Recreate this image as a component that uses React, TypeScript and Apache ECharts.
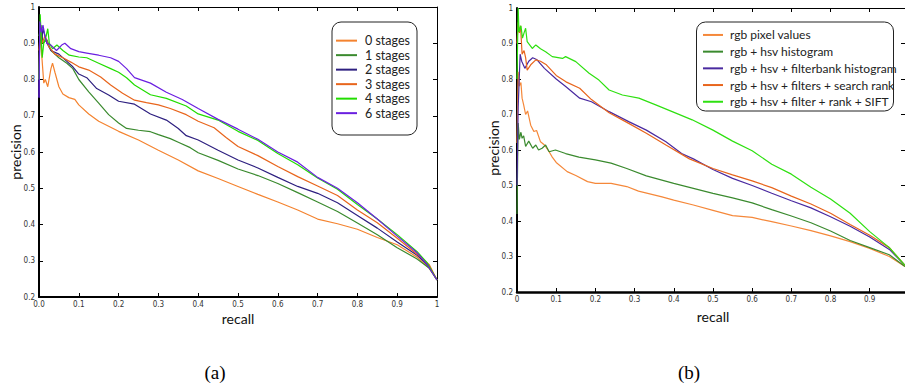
import React, { useEffect, useRef } from "react";
import * as echarts from "echarts";

// ---------- Data: (recall, precision) pairs ----------
// Panel (a)
const stages0 = [[0,0.8],[0.002,0.93],[0.006,0.88],[0.012,0.79],[0.016,0.8],[0.022,0.78],[0.03,0.83],[0.034,0.845],[0.04,0.82],[0.05,0.78],[0.06,0.76],[0.075,0.75],[0.09,0.745],[0.1,0.73],[0.125,0.705],[0.15,0.685],[0.2,0.657],[0.25,0.633],[0.3,0.605],[0.35,0.578],[0.4,0.548],[0.45,0.527],[0.5,0.505],[0.55,0.483],[0.6,0.462],[0.65,0.44],[0.7,0.415],[0.75,0.402],[0.8,0.387],[0.85,0.364],[0.9,0.344],[0.95,0.31],[0.98,0.28],[1.0,0.247]];
const stages1 = [[0,0.92],[0.005,0.95],[0.01,0.9],[0.02,0.91],[0.03,0.88],[0.05,0.86],[0.07,0.845],[0.085,0.83],[0.1,0.8],[0.125,0.766],[0.15,0.735],[0.175,0.703],[0.2,0.68],[0.22,0.665],[0.25,0.66],[0.28,0.656],[0.3,0.648],[0.33,0.637],[0.35,0.627],[0.38,0.612],[0.4,0.598],[0.45,0.577],[0.5,0.553],[0.55,0.535],[0.6,0.513],[0.65,0.488],[0.7,0.462],[0.75,0.436],[0.8,0.404],[0.85,0.372],[0.9,0.336],[0.95,0.305],[0.98,0.28],[1.0,0.247]];
const stages2 = [[0,0.75],[0.002,0.96],[0.006,0.9],[0.01,0.94],[0.02,0.9],[0.03,0.88],[0.05,0.87],[0.07,0.85],[0.085,0.835],[0.1,0.815],[0.12,0.805],[0.145,0.775],[0.175,0.757],[0.2,0.74],[0.24,0.732],[0.28,0.705],[0.32,0.688],[0.35,0.665],[0.37,0.645],[0.4,0.633],[0.45,0.605],[0.5,0.578],[0.55,0.556],[0.6,0.53],[0.65,0.505],[0.7,0.486],[0.75,0.46],[0.8,0.425],[0.85,0.39],[0.9,0.352],[0.95,0.315],[0.98,0.285],[1.0,0.247]];
const stages3 = [[0,0.88],[0.003,0.93],[0.008,0.9],[0.015,0.92],[0.025,0.89],[0.04,0.87],[0.06,0.86],[0.08,0.848],[0.1,0.835],[0.125,0.826],[0.155,0.807],[0.18,0.785],[0.21,0.762],[0.24,0.743],[0.27,0.736],[0.3,0.73],[0.33,0.72],[0.37,0.703],[0.4,0.685],[0.44,0.667],[0.47,0.64],[0.5,0.615],[0.55,0.59],[0.6,0.56],[0.65,0.532],[0.7,0.506],[0.75,0.48],[0.8,0.44],[0.85,0.405],[0.9,0.362],[0.95,0.318],[0.98,0.29],[1.0,0.247]];
const stages4 = [[0,0.8],[0.003,0.98],[0.008,0.86],[0.012,0.9],[0.018,0.92],[0.022,0.94],[0.026,0.9],[0.034,0.885],[0.045,0.895],[0.06,0.88],[0.076,0.867],[0.1,0.862],[0.12,0.86],[0.15,0.845],[0.18,0.83],[0.2,0.82],[0.22,0.805],[0.24,0.785],[0.28,0.758],[0.32,0.748],[0.37,0.727],[0.4,0.705],[0.45,0.688],[0.5,0.657],[0.55,0.632],[0.6,0.596],[0.65,0.565],[0.7,0.528],[0.75,0.497],[0.8,0.455],[0.85,0.415],[0.9,0.372],[0.95,0.325],[0.975,0.295],[1.0,0.247]];
const stages6 = [[0,0.75],[0.002,0.96],[0.006,0.93],[0.01,0.95],[0.015,0.92],[0.02,0.9],[0.03,0.895],[0.044,0.88],[0.057,0.895],[0.065,0.9],[0.08,0.885],[0.1,0.877],[0.12,0.873],[0.15,0.867],[0.18,0.86],[0.2,0.85],[0.22,0.83],[0.24,0.805],[0.28,0.79],[0.32,0.765],[0.36,0.745],[0.4,0.72],[0.45,0.69],[0.5,0.663],[0.55,0.635],[0.6,0.6],[0.65,0.572],[0.7,0.53],[0.75,0.5],[0.8,0.46],[0.85,0.415],[0.9,0.368],[0.95,0.322],[0.975,0.29],[1.0,0.247]];

// Panel (b)
const rgbPixel = [[0,0.62],[0.003,0.82],[0.006,0.78],[0.01,0.79],[0.013,0.746],[0.017,0.727],[0.022,0.7],[0.027,0.71],[0.035,0.67],[0.043,0.652],[0.05,0.655],[0.06,0.623],[0.07,0.614],[0.082,0.595],[0.09,0.58],[0.1,0.565],[0.128,0.539],[0.15,0.528],[0.18,0.511],[0.2,0.506],[0.24,0.506],[0.28,0.497],[0.31,0.484],[0.37,0.468],[0.4,0.459],[0.45,0.445],[0.5,0.43],[0.55,0.415],[0.6,0.41],[0.65,0.398],[0.7,0.386],[0.75,0.373],[0.8,0.358],[0.85,0.342],[0.9,0.323],[0.95,0.3],[0.99,0.272]];
const hsvHist = [[0,0.42],[0.002,0.6],[0.003,0.676],[0.006,0.63],[0.01,0.65],[0.013,0.633],[0.017,0.64],[0.022,0.61],[0.03,0.625],[0.04,0.605],[0.048,0.614],[0.055,0.6],[0.064,0.605],[0.073,0.614],[0.082,0.595],[0.098,0.6],[0.124,0.59],[0.158,0.58],[0.2,0.572],[0.24,0.563],[0.28,0.548],[0.33,0.527],[0.4,0.506],[0.45,0.492],[0.5,0.478],[0.55,0.465],[0.6,0.451],[0.65,0.432],[0.7,0.414],[0.75,0.395],[0.8,0.372],[0.85,0.345],[0.9,0.325],[0.95,0.305],[0.99,0.272]];
const filterbank = [[0,0.5],[0.003,0.72],[0.005,0.78],[0.008,0.87],[0.012,0.85],[0.02,0.83],[0.03,0.85],[0.04,0.86],[0.05,0.855],[0.07,0.83],[0.1,0.8],[0.125,0.778],[0.16,0.746],[0.19,0.736],[0.235,0.708],[0.285,0.68],[0.33,0.656],[0.38,0.623],[0.42,0.59],[0.45,0.575],[0.5,0.545],[0.55,0.52],[0.6,0.5],[0.65,0.478],[0.7,0.457],[0.75,0.437],[0.8,0.412],[0.85,0.385],[0.9,0.355],[0.95,0.32],[0.99,0.275]];
const searchRank = [[0,0.9],[0.003,0.96],[0.006,0.93],[0.009,0.95],[0.013,0.87],[0.018,0.88],[0.022,0.86],[0.026,0.825],[0.035,0.84],[0.048,0.854],[0.06,0.85],[0.075,0.84],[0.1,0.81],[0.125,0.792],[0.16,0.774],[0.19,0.742],[0.235,0.705],[0.285,0.675],[0.33,0.647],[0.38,0.614],[0.44,0.575],[0.5,0.548],[0.55,0.53],[0.6,0.513],[0.65,0.494],[0.7,0.47],[0.75,0.448],[0.8,0.422],[0.85,0.39],[0.9,0.36],[0.95,0.325],[0.99,0.275]];
const sift = [[0,0.8],[0.003,1.0],[0.005,0.933],[0.01,0.95],[0.014,0.915],[0.018,0.93],[0.022,0.943],[0.026,0.905],[0.039,0.886],[0.048,0.896],[0.06,0.885],[0.073,0.877],[0.09,0.863],[0.116,0.858],[0.124,0.863],[0.15,0.849],[0.184,0.816],[0.209,0.797],[0.235,0.769],[0.269,0.755],[0.311,0.746],[0.354,0.727],[0.396,0.708],[0.447,0.685],[0.5,0.656],[0.55,0.625],[0.6,0.598],[0.65,0.56],[0.7,0.532],[0.75,0.495],[0.8,0.462],[0.85,0.422],[0.9,0.37],[0.95,0.325],[0.99,0.275]];

const namesA = ["0 stages", "1 stages", "2 stages", "3 stages", "4 stages", "6 stages"];
const dataA = [stages0, stages1, stages2, stages3, stages4, stages6];
const colorsA = ["#f4832f", "#3a8a2e", "#2e2080", "#e8651c", "#22dd00", "#6a1fe0"];

const namesB = ["rgb pixel values", "rgb + hsv histogram", "rgb + hsv + filterbank histogram", "rgb + hsv + filters + search rank", "rgb + hsv + filter + rank + SIFT"];
const dataB = [rgbPixel, hsvHist, filterbank, searchRank, sift];
const colorsB = ["#f5883a", "#3a8a2e", "#4a2aa0", "#e8651c", "#2ee010"];

const xTitle = "recall";
const yTitle = "precision";
const captions = ["(a)", "(b)"];

const tickFont = "'Liberation Sans Narrow', 'DejaVu Sans Condensed', sans-serif";
const uiFont = "Lato, 'Noto Sans', sans-serif";

function xAxis(grid: number, position: string, max: number, labels: boolean, lw: number, fmt?: (v: number) => string) {
  return {
    type: "value", gridIndex: grid, position, min: 0, max, interval: 0.1,
    axisLine: { show: true, onZero: false, lineStyle: { color: "#000", width: lw } },
    axisTick: { show: true, inside: true, length: 4, lineStyle: { color: "#000", width: 1 } },
    splitLine: { show: false },
    axisLabel: { show: labels, fontSize: 8, color: "#333", margin: 3, fontFamily: tickFont, formatter: fmt, showMaxLabel: max === 1 },
  };
}
function yAxis(grid: number, position: string, labels: boolean, lw: number) {
  return {
    type: "value", gridIndex: grid, position, min: 0.2, max: 1, interval: 0.1,
    axisLine: { show: true, onZero: false, lineStyle: { color: "#000", width: lw } },
    axisTick: { show: true, inside: true, length: 4, lineStyle: { color: "#000", width: 1 } },
    splitLine: { show: false },
    axisLabel: { show: labels, fontSize: 8, color: "#333", margin: 4, fontFamily: tickFont,
      formatter: (v: number) => (Math.abs(v - 1) < 1e-9 ? "1" : v.toFixed(1)) },
  };
}

export default function App() {
  const ref = useRef<HTMLDivElement>(null);
  useEffect(() => {
    document.body.style.margin = "0";
    const chart = echarts.init(ref.current!, null, { renderer: "svg" });
    const series: any[] = [];
    dataA.forEach((d, i) => series.push({
      type: "line", name: namesA[i], data: d, xAxisIndex: 0, yAxisIndex: 0,
      showSymbol: false, symbol: "none", clip: true,
      lineStyle: { width: 1.2, color: colorsA[i] }, itemStyle: { color: colorsA[i] },
    }));
    dataB.forEach((d, i) => series.push({
      type: "line", name: namesB[i], data: d, xAxisIndex: 2, yAxisIndex: 2,
      showSymbol: false, symbol: "none", clip: true,
      lineStyle: { width: 1.2, color: colorsB[i] }, itemStyle: { color: colorsB[i] },
    }));
    const titleStyle = { fontFamily: uiFont, fontSize: 14, fill: "#111", align: "center", verticalAlign: "middle" };
    const capStyle = { fontFamily: "'Liberation Serif', 'DejaVu Serif', serif", fontSize: 19, fill: "#000", align: "center", verticalAlign: "middle" };
    const option: any = {
      animation: false,
      backgroundColor: "#fff",
      grid: [
        { left: 39, top: 7, width: 398, height: 290, containLabel: false, outerBoundsMode: "none" },
        { left: 517, top: 8, width: 388, height: 284, containLabel: false, outerBoundsMode: "none" },
      ],
      xAxis: [
        xAxis(0, "bottom", 1, true, 2, (v: number) => (v === 0 ? "0.0" : Math.abs(v - 1) < 1e-9 ? "1" : v.toFixed(1))),
        xAxis(0, "top", 1, false, 1),
        xAxis(1, "bottom", 0.99, true, 2.5, (v: number) => (v === 0 ? "0" : v.toFixed(1))),
        xAxis(1, "top", 0.99, false, 1),
      ],
      yAxis: [
        yAxis(0, "left", true, 2),
        yAxis(0, "right", false, 1),
        yAxis(1, "left", true, 2),
        yAxis(1, "right", false, 1),
      ],
      legend: [
        {
          data: namesA, orient: "vertical", left: 336, top: 33.4, icon: "rect",
          itemWidth: 21, itemHeight: 2, itemGap: 0, padding: 0, z: 6,
          selectedMode: false,
          textStyle: { fontFamily: uiFont, fontSize: 12.5, color: "#222", lineHeight: 14.5, padding: [0, 0, 0, 3] },
        },
        {
          data: namesB, orient: "vertical", left: 703, top: 26.6, icon: "rect",
          itemWidth: 20, itemHeight: 2, itemGap: 0, padding: 0, z: 6,
          selectedMode: false,
          textStyle: { fontFamily: uiFont, fontSize: 12, color: "#222", lineHeight: 16.7, padding: [0, 0, 0, 2] },
        },
      ],
      graphic: [
        { type: "rect", z: 5, shape: { x: 332, y: 22, width: 85, height: 113, r: 9 }, style: { fill: "#fff", stroke: "#222", lineWidth: 1 } },
        { type: "rect", z: 5, shape: { x: 696.5, y: 22, width: 197, height: 89, r: 9 }, style: { fill: "#fff", stroke: "#222", lineWidth: 1 } },
        { type: "text", x: 238, y: 318, style: { text: xTitle, ...titleStyle } },
        { type: "text", x: 713, y: 316, style: { text: xTitle, ...titleStyle } },
        { type: "text", x: 15, y: 152, rotation: Math.PI / 2, style: { text: yTitle, ...titleStyle } },
        { type: "text", x: 493, y: 148, rotation: Math.PI / 2, style: { text: yTitle, ...titleStyle } },
        { type: "text", x: 215, y: 372, style: { text: captions[0], ...capStyle } },
        { type: "text", x: 689, y: 372, style: { text: captions[1], ...capStyle } },
      ],
      series,
    };
    chart.setOption(option);
    return () => chart.dispose();
  }, []);
  return <div ref={ref} style={{ width: 905, height: 387 }} />;
}
